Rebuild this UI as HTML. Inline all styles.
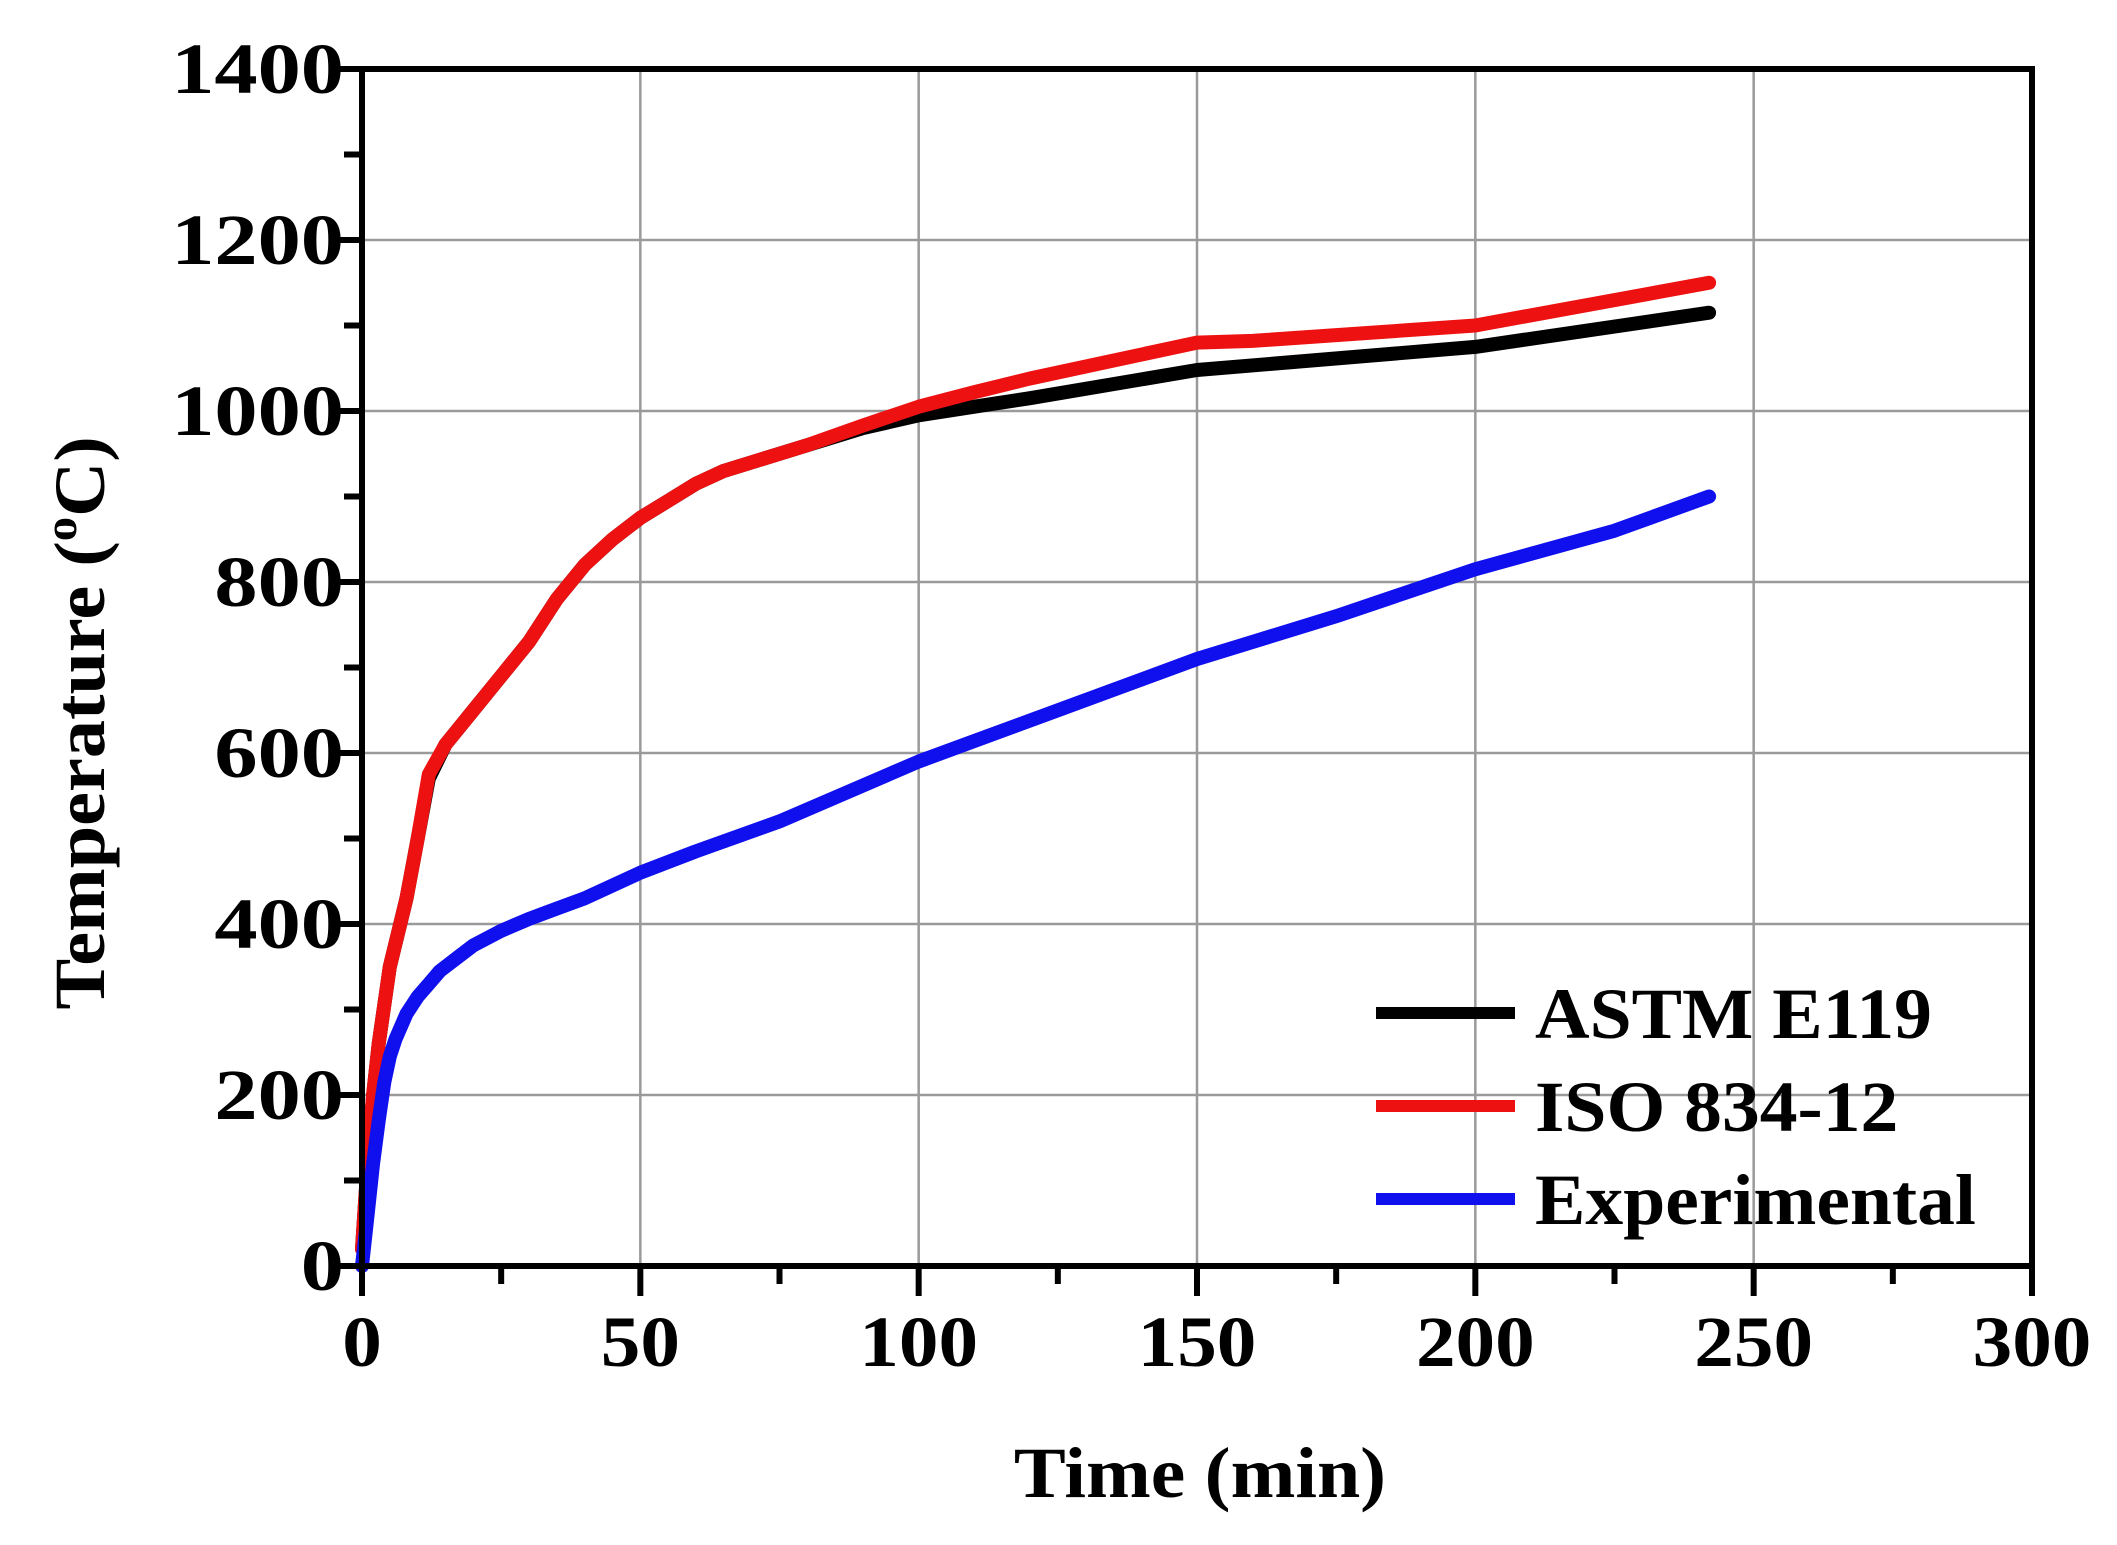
<!DOCTYPE html>
<html><head><meta charset="utf-8">
<style>
html,body{margin:0;padding:0;background:#fff;}
svg{display:block;}
text{font-family:"Liberation Serif",serif;font-weight:bold;fill:#000;}
</style></head>
<body>
<svg id="chart" width="2117" height="1545" viewBox="0 0 2117 1545" xmlns="http://www.w3.org/2000/svg">
<g id="grid"></g>
<g id="series"></g>
<g id="axes"></g>
<text transform="translate(1200,1497) scale(1.08,1)" font-size="72" text-anchor="middle">Time (min)</text>
<text transform="translate(104,723) rotate(-90) scale(1.06,1)" font-size="72" text-anchor="middle">Temperature (<tspan font-size="46" dy="-28">o</tspan><tspan dy="28">C)</tspan></text>
<g id="legend"></g>
</svg>
<script>
const xTicks=[0,50,100,150,200,250,300];
const yTicks=[0,200,400,600,800,1000,1200,1400];
const astmT=[0,1,2,3,5,8,10,12,15,20,25,30,35,40,45,50,55,60,65,70,80,90,100,110,120,150,200,242];
const astmV=[20,120,200,260,350,430,500,570,610,650,690,730,780,820,850,875,895,915,930,940,960,980,995,1005,1015,1048,1075,1115];
const isoT=[0,1,2,3,5,8,10,12,15,20,25,30,35,40,45,50,55,60,65,70,80,90,100,110,120,150,160,200,242];
const isoV=[20,120,200,260,350,430,500,575,610,650,690,730,780,820,850,875,895,915,930,940,960,983,1005,1022,1038,1080,1082,1100,1150];
const expT=[0,1,2,3,4,5,6,8,10,12,14,17,20,25,30,35,40,50,60,75,100,125,150,175,200,225,242];
const expV=[0,60,120,170,215,245,265,295,315,330,345,360,375,392,406,418,430,460,485,520,590,650,710,760,815,860,900];
const legendNames=["ASTM E119","ISO 834-12","Experimental"];
const X0=362,X1=2032,Y0=1266,Y1=69;
const sx=v=>X0+(v-0)/(300-0)*(X1-X0);
const sy=v=>Y0-(v-0)/(1400-0)*(Y0-Y1);
const NS="http://www.w3.org/2000/svg";
function mk(tag,attrs,parent){const e=document.createElementNS(NS,tag);for(const k in attrs)e.setAttribute(k,attrs[k]);parent.appendChild(e);return e;}
const grid=document.getElementById('grid'),axes=document.getElementById('axes'),ser=document.getElementById('series'),leg=document.getElementById('legend');
xTicks.forEach(t=>{if(t>0&&t<300){const l=mk('line',{x1:sx(t),x2:sx(t),y1:Y1,y2:Y0,stroke:'#9a9a9a','stroke-width':2.5},grid);

}});
yTicks.forEach(t=>{if(t>0&&t<1400){const l=mk('line',{x1:X0,x2:X1,y1:sy(t),y2:sy(t),stroke:'#9a9a9a','stroke-width':2.5},grid);

}});
function series(T,V,color,name){
 const pts=T.map((t,i)=>sx(t).toFixed(1)+','+sy(V[i]).toFixed(1)).join(' ');
 const p=mk('polyline',{points:pts,fill:'none',stroke:color,'stroke-width':14,'stroke-linejoin':'round','stroke-linecap':'round'},ser);
 
 
}
series(astmT,astmV,'#000','astm-e119-line');
series(isoT,isoV,'#ee1111','iso-834-line');
series(expT,expV,'#1010ee','experimental-line');
const fr=mk('rect',{x:X0,y:Y1,width:X1-X0,height:Y0-Y1,fill:'none',stroke:'#000','stroke-width':6},axes);


for(let t=0;t<=300;t+=25){const major=t%50===0;
 const l=mk('line',{x1:sx(t),x2:sx(t),y1:Y0,y2:Y0+(major?30:18),stroke:'#000','stroke-width':6},axes);
 
 
 if(major){const tx=mk('text',{transform:'translate('+sx(t)+','+(Y0+100)+') scale(1.1,1)','font-size':72,'text-anchor':'middle'},axes);tx.textContent=t;
 
 }}
for(let t=0;t<=1400;t+=100){const major=t%200===0;
 const l=mk('line',{x1:X0,x2:X0-(major?30:18),y1:sy(t),y2:sy(t),stroke:'#000','stroke-width':6},axes);
 
 
 if(major){const tx=mk('text',{transform:'translate('+(X0-18)+','+(sy(t)+24)+') scale(1.2,1)','font-size':72,'text-anchor':'end'},axes);tx.textContent=t;
 
 }}
const legColors=['#000','#ee1111','#1010ee'];
const legY=[1013,1106,1199];
legendNames.forEach((n,i)=>{
 const l=mk('line',{x1:1376,x2:1515,y1:legY[i],y2:legY[i],stroke:legColors[i],'stroke-width':12},leg);
 
 
 const tx=mk('text',{transform:'translate(1535,'+(legY[i]+25)+') scale(1.05,1)','font-size':72},leg);tx.textContent=n;
 
 
});
</script>
</body></html>
